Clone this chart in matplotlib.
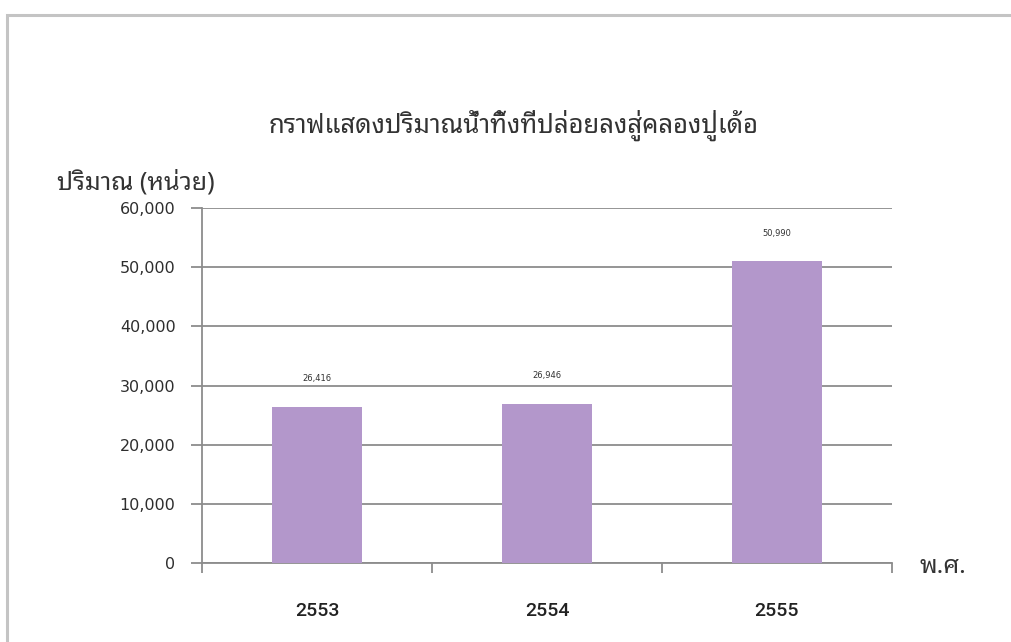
import matplotlib
matplotlib.use("Agg")
import matplotlib.pyplot as plt
from matplotlib.patches import Rectangle
from matplotlib.ticker import FuncFormatter

years = ["2553", "2554", "2555"]
amounts = [26416, 26946, 50990]
value_labels = ["26,416", "26,946", "50,990"]

thai = ["Noto Sans Thai Looped", "DejaVu Sans"]
bar_color = "#b397cb"
grid_color = "#8c8c8c"

fig = plt.figure(figsize=(10.12, 6.42), dpi=100)
fig.patch.set_facecolor("white")

# light frame around the chart (top and left edges visible)
fig.patches.append(Rectangle((7 / 1012, -0.1), 1.2, 1 - 15 / 642 + 0.1,
                             transform=fig.transFigure, fill=False,
                             edgecolor="#c4c4c4", linewidth=2.2))

ax = fig.add_axes([202 / 1012, 79 / 642, 690 / 1012, 355 / 642])
x = range(len(years))
bars = ax.bar(x, amounts, width=0.39, color=bar_color, zorder=3)

ax.set_xlim(-0.5, 2.5)
ax.set_ylim(0, 60000)
ax.set_yticks(range(0, 60001, 10000))
ax.yaxis.set_major_formatter(FuncFormatter(lambda v, p: f"{int(v):,}"))
ax.grid(axis="y", color=grid_color, linewidth=1.3, zorder=0)

ax.set_xticks(list(x))
ax.set_xticklabels(years, family=["Roboto", "DejaVu Sans"],
                   fontsize=14, fontstretch="condensed", fontweight="medium",
                   color="#222222")
ax.set_xticks([-0.5, 0.5, 1.5, 2.5], minor=True)
ax.tick_params(axis="x", which="major", length=0, pad=28)
ax.tick_params(axis="x", which="minor", length=7, width=1.3, color=grid_color)
ax.tick_params(axis="y", length=8, width=1.3, color=grid_color, pad=11,
               labelsize=11.5, labelcolor="#2e2e2e")

for s in ["top", "right"]:
    ax.spines[s].set_visible(False)
for s in ["left", "bottom"]:
    ax.spines[s].set_color(grid_color)
    ax.spines[s].set_linewidth(1.3)

for b, lab in zip(bars, value_labels):
    ax.annotate(lab, (b.get_x() + b.get_width() / 2, b.get_height()),
                xytext=(0, 20), textcoords="offset points",
                ha="center", va="center", fontsize=6, color="#333333")

fig.text(0.508, 0.805, "กราฟแสดงปริมาณน้ำทิ้งที่ปล่อยลงสู่คลองปู่เด้อ",
         family=thai, fontsize=18.5, fontweight="semibold", color="#333333",
         ha="center", va="center")
fig.text(57 / 1012, 0.715, "ปริมาณ (หน่วย)", family=thai, fontsize=18,
         fontweight="bold", color="#333333", ha="left", va="center")
fig.text(920 / 1012, 0.118, "พ.ศ.", family=thai, fontsize=18,
         fontweight="bold", color="#333333", ha="left", va="center")

fig.savefig("out.png", dpi=100, facecolor="white")
